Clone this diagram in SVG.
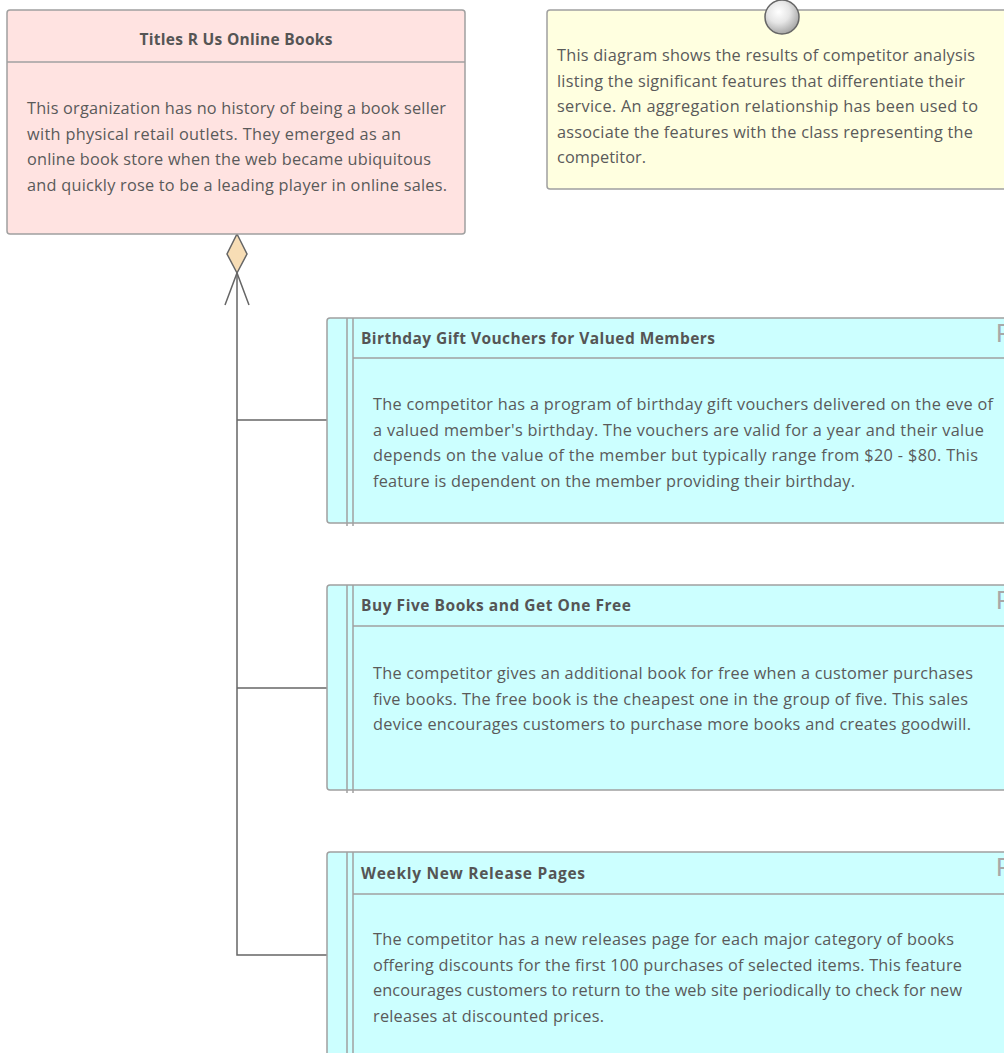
<svg xmlns="http://www.w3.org/2000/svg" width="1004" height="1053" viewBox="0 0 1004 1053">
<defs>
<radialGradient id="ball" cx="0.4" cy="0.35" r="0.65">
<stop offset="0" stop-color="#ffffff"/>
<stop offset="0.5" stop-color="#e6e6e6"/>
<stop offset="1" stop-color="#a8a8a8"/>
</radialGradient>
</defs>
<style>
.box{stroke:#a0a0a0;stroke-width:1.5}
.cls{fill:#ffe3e1}
.note{fill:#ffffe0}
.feat{fill:#ccffff}
.sep{stroke:#a0a0a0;stroke-width:1.5;fill:none}
.t{font-family:"Open Sans","Noto Sans","Liberation Sans",sans-serif;fill:#5a5a5a;font-size:16.3px}
.h{font-family:"Open Sans","Noto Sans","Liberation Sans",sans-serif;fill:#555;font-size:15.5px;font-weight:bold}
.f{font-family:"Liberation Sans","DejaVu Sans",sans-serif;fill:#a8a8a8;font-size:26px}
.con{stroke:#666;stroke-width:1.5;fill:none}
</style>
<g id="connectors">
<polyline class="con" points="237,273 237,955 327,955"/>
<line class="con" x1="237" y1="420" x2="327" y2="420"/>
<line class="con" x1="237" y1="688" x2="327" y2="688"/>
<polyline class="con" points="225,305 237,273 249,305"/>
<polygon points="237,234 247,254 237,273 227,254" fill="#f7ddb5" stroke="#666" stroke-width="1.5"/>
</g>
<g id="node-titles">
<rect class="box cls" x="7" y="10" width="458" height="224" rx="3"/>
<line class="sep" x1="7" y1="62" x2="465" y2="62"/>
<text class="h" x="236" y="45" text-anchor="middle" textLength="193">Titles R Us Online Books</text>
<text class="t" x="27" y="114" textLength="419">This organization has no history of being a book seller</text>
<text class="t" x="27" y="139.5" textLength="374">with physical retail outlets. They emerged as an</text>
<text class="t" x="27" y="165" textLength="404">online book store when the web became ubiquitous</text>
<text class="t" x="27" y="190.5" textLength="420">and quickly rose to be a leading player in online sales.</text>
</g>
<g id="node-note">
<rect class="box note" x="547" y="10" width="470" height="179" rx="3"/>
<circle cx="782" cy="17" r="17" fill="url(#ball)" stroke="#666" stroke-width="1.5"/>
<text class="t" x="557" y="61" textLength="418">This diagram shows the results of competitor analysis</text>
<text class="t" x="557" y="86.5" textLength="408">listing the significant features that differentiate their</text>
<text class="t" x="557" y="112" textLength="421">service. An aggregation relationship has been used to</text>
<text class="t" x="557" y="137.5" textLength="416">associate the features with the class representing the</text>
<text class="t" x="557" y="163" textLength="89">competitor.</text>
</g>
<g id="node-birthday">
<rect class="box feat" x="327" y="318" width="690" height="205" rx="3"/>
<line class="sep" x1="347" y1="318" x2="347" y2="526"/>
<line class="sep" x1="353" y1="318" x2="353" y2="526"/>
<line class="sep" x1="353" y1="358" x2="1010" y2="358"/>
<text class="f" x="996" y="342">F</text>
<text class="h" x="361" y="344" textLength="354">Birthday Gift Vouchers for Valued Members</text>
<text class="t" x="373" y="410" textLength="620">The competitor has a program of birthday gift vouchers delivered on the eve of</text>
<text class="t" x="373" y="435.5" textLength="611">a valued member's birthday. The vouchers are valid for a year and their value</text>
<text class="t" x="373" y="461" textLength="605">depends on the value of the member but typically range from $20 - $80. This</text>
<text class="t" x="373" y="486.5" textLength="482">feature is dependent on the member providing their birthday.</text>
</g>
<g id="node-buyfive">
<rect class="box feat" x="327" y="585" width="690" height="205" rx="3"/>
<line class="sep" x1="347" y1="585" x2="347" y2="793"/>
<line class="sep" x1="353" y1="585" x2="353" y2="793"/>
<line class="sep" x1="353" y1="626" x2="1010" y2="626"/>
<text class="f" x="996" y="609">F</text>
<text class="h" x="361" y="611" textLength="270">Buy Five Books and Get One Free</text>
<text class="t" x="373" y="679" textLength="600">The competitor gives an additional book for free when a customer purchases</text>
<text class="t" x="373" y="704.5" textLength="595">five books. The free book is the cheapest one in the group of five. This sales</text>
<text class="t" x="373" y="730" textLength="598">device encourages customers to purchase more books and creates goodwill.</text>
</g>
<g id="node-weekly">
<rect class="box feat" x="327" y="852" width="690" height="220" rx="3"/>
<line class="sep" x1="347" y1="852" x2="347" y2="1060"/>
<line class="sep" x1="353" y1="852" x2="353" y2="1060"/>
<line class="sep" x1="353" y1="894" x2="1010" y2="894"/>
<text class="f" x="996" y="876">F</text>
<text class="h" x="361" y="879" textLength="224">Weekly New Release Pages</text>
<text class="t" x="373" y="945" textLength="581">The competitor has a new releases page for each major category of books</text>
<text class="t" x="373" y="970.5" textLength="589">offering discounts for the first 100 purchases of selected items. This feature</text>
<text class="t" x="373" y="996" textLength="589">encourages customers to return to the web site periodically to check for new</text>
<text class="t" x="373" y="1021.5" textLength="231">releases at discounted prices.</text>
</g>
</svg>
